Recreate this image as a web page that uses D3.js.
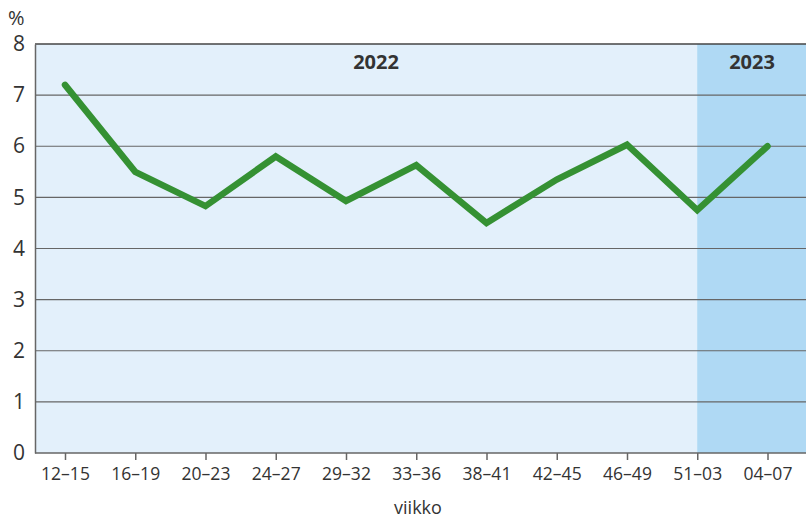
<!DOCTYPE html>
<html>
<head>
<meta charset="utf-8">
<script src="https://cdn.jsdelivr.net/npm/d3@7"></script>
<style>
  body { margin: 0; background: #fff; }
  text { font-family: "Open Sans", "Noto Sans", sans-serif; fill: #333; }
</style>
</head>
<body>
<svg id="chart" width="806" height="519"></svg>
<script>
var weeks = ["12–15", "16–19", "20–23", "24–27", "29–32", "33–36", "38–41", "42–45", "46–49", "51–03", "04–07"]
var share = [7.2, 5.5, 4.83, 5.8, 4.93, 5.63, 4.5, 5.35, 6.03, 4.75, 6.0]
var yTicks = [0, 1, 2, 3, 4, 5, 6, 7, 8]
var years = ["2022", "2023"]

var svg = d3.select("#chart")
var plotLeft = 35, plotRight = 806, plotTop = 44, plotBottom = 453

var x = d3.scalePoint().domain(weeks).range([65, 767.5])
var y = d3.scaleLinear().domain([0, 8]).range([plotBottom, plotTop])

// background panels
svg.append("rect")
    .attr("x", plotLeft).attr("y", plotTop)
    .attr("width", plotRight - plotLeft).attr("height", plotBottom - plotTop)
    .attr("fill", "#e3f0fb")

svg.append("rect")
    .attr("x", x("51–03")).attr("y", plotTop)
    .attr("width", plotRight - x("51–03")).attr("height", plotBottom - plotTop)
    .attr("fill", "#afd9f4")

// gridlines
svg.append("g")
    .selectAll("line")
    .data(yTicks.filter(d => d > 0))
    .enter()
    .append("line")
    .attr("x1", plotLeft).attr("x2", plotRight)
    .attr("y1", d => y(d)).attr("y2", d => y(d))
    .attr("stroke", d => d == 8 ? "#444" : "#666")
    .attr("stroke-width", d => d == 8 ? 1.5 : 1.2)

// axes
var yAxis = svg.append("g")
    .attr("transform", "translate(" + plotLeft + ",0)")
    .call(d3.axisLeft(y).tickValues(yTicks).tickSize(0).tickPadding(10))
yAxis.select(".domain").attr("stroke", "#666").attr("stroke-width", 1.5)
yAxis.selectAll("text").style("font-size", "21px").attr("fill", "#333")

var xAxis = svg.append("g")
    .attr("transform", "translate(0," + plotBottom + ")")
    .call(d3.axisBottom(x).tickSize(7).tickPadding(8))
xAxis.select(".domain").attr("d", "M" + plotLeft + ",0H" + plotRight).attr("stroke", "#666").attr("stroke-width", 1.5)
xAxis.selectAll(".tick line").attr("stroke", "#666").attr("stroke-width", 1.5)
xAxis.selectAll("text").style("font-size", "17.5px").attr("fill", "#333")

// line
svg.append("path")
    .datum(share)
    .attr("fill", "none")
    .attr("stroke", "#359133")
    .attr("stroke-width", 6.5)
    .attr("stroke-linejoin", "miter")
    .attr("stroke-linecap", "round")
    .attr("d", d3.line().x((d, i) => x(weeks[i])).y(d => y(d)))

// year labels
svg.append("text")
    .attr("x", 376).attr("y", 69)
    .attr("text-anchor", "middle")
    .style("font-size", "20px").style("font-weight", "bold")
    .text(years[0])
svg.append("text")
    .attr("x", 752).attr("y", 69)
    .attr("text-anchor", "middle")
    .style("font-size", "20px").style("font-weight", "bold")
    .text(years[1])

// titles
svg.append("text")
    .attr("x", 8).attr("y", 25)
    .style("font-size", "20px")
    .text("%")
svg.append("text")
    .attr("x", 418).attr("y", 514)
    .attr("text-anchor", "middle")
    .style("font-size", "18px")
    .text("viikko")
</script>
</body>
</html>
